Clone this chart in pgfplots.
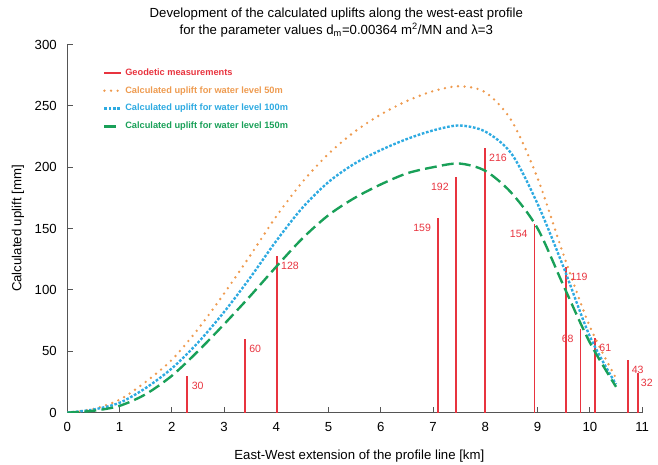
\documentclass[border=0pt]{standalone}
\usepackage{fontspec}
\setmainfont{Liberation Sans}
\usepackage{pgfplots}
\pgfplotsset{compat=1.18}

\definecolor{geored}{HTML}{E8343F}
\definecolor{c50}{HTML}{EE9B50}
\definecolor{c100}{HTML}{2DAAE1}
\definecolor{c150}{HTML}{19A058}
\definecolor{axgray}{HTML}{555555}

\begin{document}
\begin{tikzpicture}
\begin{axis}[
  name=ax,
  scale only axis, width=435.75pt, height=279pt,
  xmin=0, xmax=11, ymin=0, ymax=300,
  xtick={0,...,11}, ytick={0,50,...,300},
  axis x line*=bottom, axis y line*=left,
  axis line style={-, axgray, line width=0.8pt},
  tick align=inside, major tick length=4pt,
  tick style={axgray, line width=0.8pt},
  /pgf/number format/assume math mode=true,
  tick label style={font=\fontsize{10}{12}\selectfont},
  xticklabel style={yshift=-4pt},
  yticklabel style={xshift=-4.5pt},
  title={Development of the calculated uplifts along the west-east profile\\for the parameter values d\textsubscript{m}=0.00364 m\textsuperscript{2}/MN and λ=3},
  title style={at={(axis description cs:0.468,1)}, anchor=south, yshift=-4pt, align=center, font=\fontsize{10}{13}\selectfont},
  xlabel={East-West extension of the profile line [km]},
  ylabel={Calculated uplift [mm]},
  label style={font=\fontsize{10}{12}\selectfont},
  xlabel style={at={(axis description cs:0.508,-0.118)}, anchor=center},
  ylabel style={at={(axis description cs:-0.086,0.5)}, anchor=center},
  legend style={draw=none, fill=none, at={(axis description cs:0.055,0.95)}, anchor=north west,
    font=\fontsize{7}{8}\selectfont\bfseries, row sep=3pt, legend cell align=left},
  legend image code/.code={\draw[#1] (0cm,0cm) -- (0.45cm,0cm);},
]
% geodetic measurements, labels on the right
\addplot[ycomb, geored, line width=1.5pt,
  nodes near coords, point meta=explicit,
  nodes near coords style={font=\fontsize{8}{9}\selectfont, text=geored, anchor=north west, inner sep=2.5pt, yshift=-1.5pt}]
  coordinates {(2.30,30)[30] (3.40,60)[60] (4.01,128)[128] (7.99,216)[216] (9.55,119)[119] (10.10,61)[61] (10.72,43)[43]};
\addlegendentry{\textcolor{geored}{Geodetic measurements}}
% last bar, label kept tight to the bar
\addplot[ycomb, geored, line width=1.5pt, forget plot,
  nodes near coords, point meta=explicit,
  nodes near coords style={font=\fontsize{8}{9}\selectfont, text=geored, anchor=north west, inner sep=1.5pt, yshift=-2.5pt}]
  coordinates {(10.92,32)[32]};
% labels on the left
\addplot[ycomb, geored, line width=1.5pt, forget plot,
  nodes near coords, point meta=explicit,
  nodes near coords style={font=\fontsize{8}{9}\selectfont, text=geored, anchor=north east, inner sep=2.5pt, yshift=-1.5pt, xshift=-2pt}]
  coordinates {(7.09,159)[159] (7.43,192)[192] (8.94,154)[154] (9.82,68)[68]};

\addplot[c50, line width=2pt, line cap=round, dash pattern=on 0pt off 5pt, smooth] coordinates {
  (0,0) (0.5,3) (1,10.5) (1.5,25) (2,43) (2.5,68) (3,97) (3.5,128) (4,160) (4.5,188)
  (5,211) (5.5,229) (6,243) (6.5,254) (7,262) (7.5,266) (8,261) (8.5,238) (9,191)
  (9.5,128) (10,70) (10.5,28)};
\addlegendentry{\textcolor{c50}{Calculated uplift for water level 50m}}

\addplot[c100, line width=1.8pt, dash pattern=on 2pt off 1.3pt, smooth] coordinates {
  (0,0) (0.5,2.5) (1,8) (1.5,20) (2,36) (2.5,57) (3,82) (3.5,110) (4,140) (4.5,167)
  (5,188) (5.5,203) (6,214) (6.5,223) (7,230) (7.5,234) (8,229) (8.5,211) (9,170)
  (9.5,118) (10,62) (10.5,23)};
\addlegendentry{\textcolor{c100}{Calculated uplift for water level 100m}}

\addplot[c150, line width=1.8pt, dash pattern=on 9pt off 4pt, smooth] coordinates {
  (0,0) (0.5,1.5) (1,5.5) (1.5,15) (2,30) (2.5,50) (3,72) (3.5,95) (4,119) (4.5,142)
  (5,161) (5.5,175) (6,186) (6.5,195) (7,200) (7.5,203) (8,197) (8.5,179) (9,150)
  (9.5,103) (10,57) (10.5,21)};
\addlegendentry{\textcolor{c150}{Calculated uplift for water level 150m}}
\end{axis}
\pgfresetboundingbox
\path ([shift={(-51pt,-39pt)}]ax.south west) rectangle ([shift={(12pt,33.75pt)}]ax.north east);
\end{tikzpicture}
\end{document}
